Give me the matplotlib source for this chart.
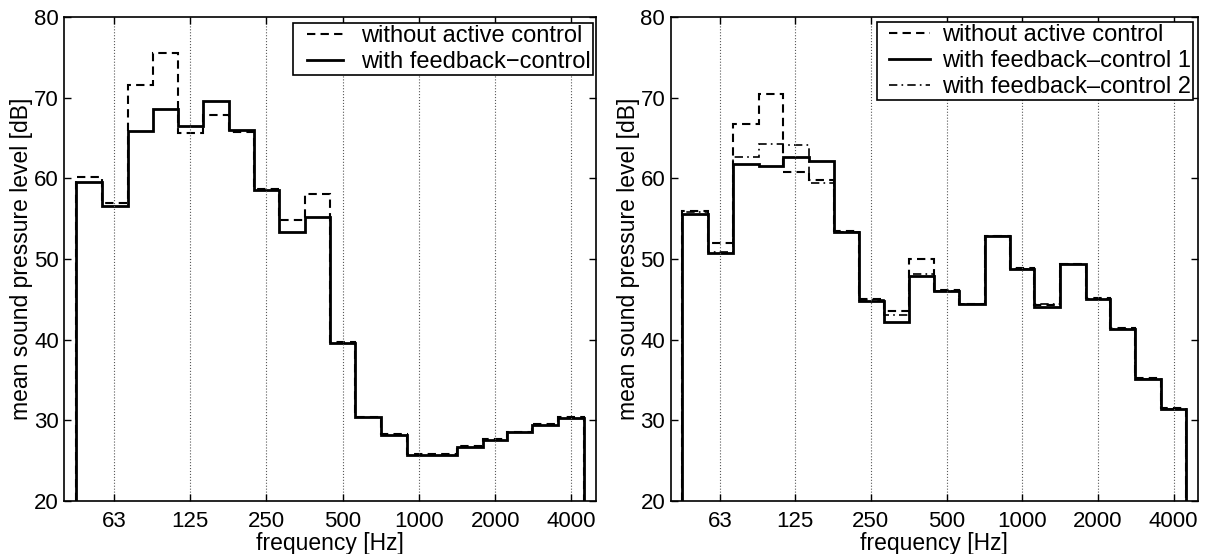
import numpy as np
import matplotlib
matplotlib.use('Agg')
from matplotlib import pyplot as plt
from matplotlib.lines import Line2D
from matplotlib.legend_handler import HandlerLine2D
from matplotlib.ticker import FixedLocator, FixedFormatter, NullLocator

plt.rcParams['font.family'] = ['Liberation Sans', 'DejaVu Sans']

# third-octave band centres [Hz]
bands = [50, 63, 80, 100, 125, 160, 200, 250, 315, 400, 500, 630, 800,
         1000, 1250, 1600, 2000, 2500, 3150, 4000]

# left panel
left_without = [60.2, 56.9, 71.6, 75.5, 65.6, 67.85, 65.75, 58.7, 54.8, 58.0,
                39.7, 30.4, 28.3, 25.8, 25.8, 26.8, 27.7, 28.6, 29.5, 30.4]
left_feedback = [59.55, 56.6, 65.9, 68.6, 66.5, 69.55, 66.0, 58.5, 53.3, 55.2,
                 39.6, 30.4, 28.2, 25.7, 25.7, 26.7, 27.6, 28.5, 29.4, 30.3]

# right panel
right_without = [55.9, 52.0, 66.7, 70.4, 60.8, 59.8, 53.5, 45.0, 43.6, 50.0,
                 46.1, 44.4, 52.9, 48.9, 44.3, 49.4, 45.2, 41.4, 35.2, 31.5]
right_fb1 = [55.6, 50.7, 61.8, 61.5, 62.7, 62.2, 53.3, 44.8, 42.2, 47.9,
             46.0, 44.4, 52.9, 48.7, 44.0, 49.4, 45.1, 41.3, 35.1, 31.4]
right_fb2 = [55.8, 50.9, 62.6, 64.2, 64.1, 59.4, 53.4, 44.9, 43.1, 48.2,
             46.0, 44.4, 52.8, 48.8, 44.4, 49.4, 45.1, 41.3, 35.1, 31.4]

tick_freqs = [63, 125, 250, 500, 1000, 2000, 4000]
tick_labels = ['63', '125', '250', '500', '1000', '2000', '4000']

# band edges: geometric means between neighbouring centres
f = np.array(bands, dtype=float)
inner = np.sqrt(f[:-1] * f[1:])
edges = np.concatenate([[f[0] * 2 ** (-1 / 6)], inner, [f[-1] * 2 ** (1 / 6)]])

dashed = dict(color='k', lw=1.5, linestyle=(0, (4, 2.5)))
solid = dict(color='k', lw=2.0, linestyle='-')
dashdot = dict(color='k', lw=1.2, linestyle=(0, (5, 2.5, 1, 2.5)))

fig = plt.figure(figsize=(12.07, 5.54), dpi=100)
ax1 = fig.add_axes([0.0534, 0.0957, 0.4404, 0.8736])
ax2 = fig.add_axes([0.5557, 0.0957, 0.4369, 0.8736])


def style(ax):
    ax.set_xscale('log')
    ax.set_xlim(40, 5000)
    ax.set_ylim(20, 80)
    ax.xaxis.set_major_locator(FixedLocator(tick_freqs))
    ax.xaxis.set_major_formatter(FixedFormatter(tick_labels))
    ax.xaxis.set_minor_locator(NullLocator())
    ax.set_yticks([20, 30, 40, 50, 60, 70, 80])
    ax.tick_params(direction='in', top=True, right=True, length=5,
                   width=1.0, labelsize=16)
    ax.tick_params(axis='x', pad=7)
    ax.tick_params(axis='y', pad=4)
    ax.grid(True, axis='x', linestyle=':', color='0.35', linewidth=0.8)
    for s in ax.spines.values():
        s.set_linewidth(1.2)
    ax.set_xlabel('frequency [Hz]', fontsize=16.5, labelpad=0)
    ax.set_ylabel('mean sound pressure level [dB]', fontsize=16.5, labelpad=0.5)


def add_legend(ax, styles, labels, anchor, xpad, hlen, tpad):
    proxies = [Line2D([], [], **s) for s in styles]
    leg = ax.legend(proxies, labels, loc='upper right', bbox_to_anchor=anchor,
                    borderaxespad=0, fontsize=17, fancybox=False,
                    edgecolor='k', framealpha=1, handlelength=hlen,
                    handletextpad=tpad, labelspacing=0.17, borderpad=0.08,
                    handler_map={Line2D: HandlerLine2D(xpad=xpad)})
    leg.get_frame().set_linewidth(1.2)


style(ax1)
ax1.stairs(left_without, edges, baseline=20, **dashed)
ax1.stairs(left_feedback, edges, baseline=20, **solid)
add_legend(ax1, [dashed, solid],
           ['without active control', 'with feedback\u2212control'],
           (0.9944, 0.9876), 0.5, 2.02, 0.8)

style(ax2)
ax2.stairs(right_without, edges, baseline=20, **dashed)
ax2.stairs(right_fb1, edges, baseline=20, **solid)
ax2.stairs(right_fb2, edges, baseline=20, **dashdot)
add_legend(ax2, [dashed, solid, dashdot],
           ['without active control', 'with feedback\u2013control 1',
            'with feedback\u2013control 2'],
           (0.9905, 0.9897), 0.46, 2.2, 0.5)

fig.savefig('out.png', dpi=100)
